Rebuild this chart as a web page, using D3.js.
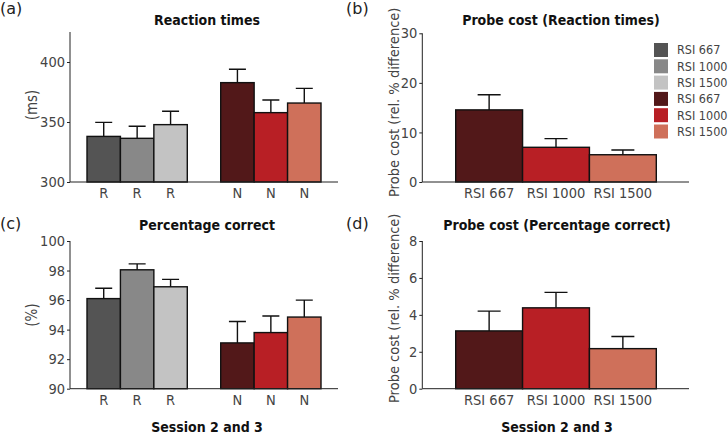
<!DOCTYPE html>
<html>
<head>
<meta charset="utf-8">
<script src="https://cdn.jsdelivr.net/npm/d3@7"></script>
<style>
    body { margin: 0; background: #fff; }
    text { font-family: "DejaVu Sans Condensed", "DejaVu Sans", sans-serif; }
</style>
</head>
<body>
<div id="chart"></div>
<script>
// data
const condLabels = ["R", "R", "R", "N", "N", "N"];
const condSlots = [0, 1, 2, 4, 5, 6];
const condColors = ["#545454", "#888888", "#c3c3c3", "#521819", "#b81f25", "#cf705a"];

const rtMean = [338, 336.4, 347.8, 382.8, 357.8, 365.8];
const rtErr = [349.7, 346.4, 358.9, 393.9, 368.3, 378];

const pcMean = [96.1, 98.05, 96.9, 93.1, 93.8, 94.85];
const pcErr = [96.8, 98.45, 97.4, 94.55, 94.92, 96.0];

const rsiLabels = ["RSI 667", "RSI 1000", "RSI 1500"];
const costColors = ["#521819", "#b81f25", "#cf705a"];
const costRtMean = [14.55, 7.0, 5.5];
const costRtErr = [17.6, 8.75, 6.45];
const costPcMean = [3.13, 4.38, 2.17];
const costPcErr = [4.2, 5.22, 2.83];

const legendLabels = ["RSI 667", "RSI 1000", "RSI 1500", "RSI 667", "RSI 1000", "RSI 1500"];

const rtTicks = [300, 350, 400];
const pcTicks = [90, 92, 94, 96, 98, 100];
const costRtTicks = [0, 10, 20, 30];
const costPcTicks = [0, 2, 4, 6, 8];

const textColor = "#444";
const axisColor = "#222";
const tickFont = "14.5px";

const svg = d3.select("#chart")
    .append("svg")
    .attr("width", 728)
    .attr("height", 434);

function drawPanel(opt) {
    const g = svg.append("g");

    const y = d3.scaleLinear()
        .domain(opt.domain)
        .range([opt.bottom, opt.top]);

    const x = d3.scaleBand()
        .domain(opt.slots)
        .range([opt.barLeft, opt.barRight])
        .padding(0);

    // bars
    g.selectAll(".bar")
        .data(opt.means)
        .enter()
        .append("rect")
        .attr("class", "bar")
        .attr("x", (d, i) => x(opt.barSlot[i]))
        .attr("width", x.bandwidth())
        .attr("y", d => y(d))
        .attr("height", d => opt.bottom - y(d))
        .attr("fill", (d, i) => opt.colors[i])
        .attr("stroke", "#111")
        .attr("stroke-width", 1.4);

    // upper error bars
    g.selectAll(".err")
        .data(opt.errs)
        .enter()
        .append("path")
        .attr("class", "err")
        .attr("d", (d, i) => {
            const cx = x(opt.barSlot[i]) + x.bandwidth() / 2;
            return "M" + cx + "," + y(opt.means[i]) + "V" + y(d) +
                "M" + (cx - opt.cap / 2) + "," + y(d) + "H" + (cx + opt.cap / 2);
        })
        .attr("fill", "none")
        .attr("stroke", "#111")
        .attr("stroke-width", 1.4);

    // y axis
    const yAxis = g.append("g")
        .attr("transform", "translate(" + opt.left + ",0)")
        .call(d3.axisLeft(y).tickValues(opt.ticks).tickSize(3).tickPadding(2));
    yAxis.select(".domain").attr("stroke", axisColor).attr("d", "M0," + opt.bottom + "V" + opt.top);
    yAxis.selectAll(".tick line").attr("stroke", axisColor);
    yAxis.selectAll(".tick text")
        .attr("fill", textColor)
        .style("font-size", tickFont)
        .style("font-family", "'DejaVu Sans Condensed', sans-serif");

    // x axis line + labels
    const xAxis = g.append("g")
        .attr("transform", "translate(0," + opt.bottom + ")")
        .call(d3.axisBottom(x).tickSize(0).tickPadding(6).tickFormat((d, i) => opt.xLabels[i]));
    xAxis.select(".domain").attr("stroke", axisColor).attr("d", "M" + opt.left + ",0H" + opt.right);
    xAxis.selectAll(".tick text")
        .attr("fill", textColor)
        .style("font-size", tickFont)
        .style("font-family", "'DejaVu Sans Condensed', sans-serif");

    // titles
    g.append("text")
        .attr("x", opt.titleX)
        .attr("y", opt.titleY)
        .attr("text-anchor", "middle")
        .attr("font-weight", "bold")
        .attr("font-size", "14px")
        .attr("fill", "#111")
        .text(opt.title);

    g.append("text")
        .attr("transform", "translate(" + opt.ylabX + "," + opt.ylabY + ") rotate(-90)")
        .attr("text-anchor", opt.ylabAnchor)
        .attr("font-size", opt.ylabSize)
        .attr("fill", textColor)
        .text(opt.ylab);

    g.append("text")
        .attr("x", opt.tagX)
        .attr("y", opt.tagY)
        .attr("font-size", "16px")
        .attr("fill", "#222")
        .style("font-family", "'DejaVu Sans', sans-serif")
        .text(opt.tag);

    if (opt.session) {
        g.append("text")
            .attr("x", opt.titleX)
            .attr("y", 432)
            .attr("text-anchor", "middle")
            .attr("font-weight", "bold")
            .attr("font-size", "14px")
            .attr("fill", "#111")
            .text("Session 2 and 3");
    }
}

// (a)
drawPanel({
    domain: [300, 425], top: 32, bottom: 182, left: 70, right: 338,
    slots: d3.range(7), barSlot: condSlots, barLeft: 87, barRight: 321,
    means: rtMean, errs: rtErr, colors: condColors, cap: 17,
    ticks: rtTicks, xLabels: ["R", "R", "R", "", "N", "N", "N"],
    title: "Reaction times", titleX: 207, titleY: 25,
    ylab: "(ms)", ylabX: 37, ylabY: 105, ylabAnchor: "middle", ylabSize: "15px",
    tag: "(a)", tagX: 0, tagY: 14
});

// (c)
drawPanel({
    domain: [90, 100], top: 241, bottom: 388.7, left: 70, right: 338,
    slots: d3.range(7), barSlot: condSlots, barLeft: 87, barRight: 321,
    means: pcMean, errs: pcErr, colors: condColors, cap: 17,
    ticks: pcTicks, xLabels: ["R", "R", "R", "", "N", "N", "N"],
    title: "Percentage correct", titleX: 207, titleY: 230,
    ylab: "(%)", ylabX: 37, ylabY: 315, ylabAnchor: "middle", ylabSize: "15px",
    tag: "(c)", tagX: 0, tagY: 229, session: true
});

// (b)
drawPanel({
    domain: [0, 30], top: 33.3, bottom: 182, left: 422.3, right: 689,
    slots: d3.range(3), barSlot: d3.range(3), barLeft: 455.7, barRight: 656.3,
    means: costRtMean, errs: costRtErr, colors: costColors, cap: 23,
    ticks: costRtTicks, xLabels: rsiLabels,
    title: "Probe cost (Reaction times)", titleX: 561, titleY: 25,
    ylab: "Probe cost (rel. % difference)", ylabX: 399, ylabY: 197, ylabAnchor: "start", ylabSize: "14.5px",
    tag: "(b)", tagX: 346, tagY: 14
});

// (d)
drawPanel({
    domain: [0, 8], top: 241, bottom: 388.7, left: 422.3, right: 689,
    slots: d3.range(3), barSlot: d3.range(3), barLeft: 455.7, barRight: 656.3,
    means: costPcMean, errs: costPcErr, colors: costColors, cap: 23,
    ticks: costPcTicks, xLabels: rsiLabels,
    title: "Probe cost (Percentage correct)", titleX: 557, titleY: 230,
    ylab: "Probe cost (rel. % difference)", ylabX: 399, ylabY: 403, ylabAnchor: "start", ylabSize: "14.5px",
    tag: "(d)", tagX: 346, tagY: 229, session: true
});

// legend
const legend = svg.append("g")
    .attr("class", "legend")
    .attr("transform", "translate(654,43)");

const legendItems = legend.selectAll(".legend-item")
    .data(legendLabels)
    .enter().append("g")
    .attr("class", "legend-item")
    .attr("transform", (d, i) => "translate(0," + (i * 16.3) + ")");

legendItems.append("rect")
    .attr("width", 14)
    .attr("height", 14)
    .attr("fill", (d, i) => condColors[i]);

legendItems.append("text")
    .attr("x", 23)
    .attr("y", 7)
    .attr("dy", ".35em")
    .attr("font-size", "12.5px")
    .attr("fill", textColor)
    .text(d => d);
</script>
</body>
</html>
